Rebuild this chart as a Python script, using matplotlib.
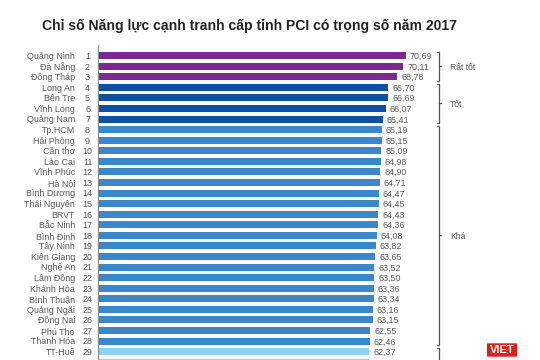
import matplotlib
matplotlib.use("Agg")
import matplotlib.pyplot as plt
from matplotlib.patches import FancyBboxPatch

plt.rcParams['font.family'] = ['Liberation Sans', 'DejaVu Sans']

provinces = ["Quảng Ninh", "Đà Nẵng", "Đồng Tháp", "Long An", "Bến Tre", "Vĩnh Long",
             "Quảng Nam", "Tp.HCM", "Hải Phòng", "Cần thơ", "Lào Cai", "Vĩnh Phúc",
             "Hà Nội", "Bình Dương", "Thái Nguyên", "BRVT", "Bắc Ninh", "Bình Định",
             "Tây Ninh", "Kiên Giang", "Nghệ An", "Lâm Đồng", "Khánh Hòa", "Bình Thuận",
             "Quảng Ngãi", "Đồng Nai", "Phú Thọ", "Thanh Hóa", "TT-Huế", "Bắc Giang"]
ranks = list(range(1, 31))
scores = [70.69, 70.11, 68.78, 66.70, 66.69, 66.07, 65.41, 65.19, 65.15, 65.09,
          64.98, 64.90, 64.71, 64.47, 64.45, 64.43, 64.36, 64.08, 63.82, 63.65,
          63.52, 63.50, 63.36, 63.34, 63.16, 63.15, 62.55, 62.46, 62.37, 62.30]
groups = ["Rất tốt"] * 3 + ["Tốt"] * 4 + ["Khá"] * 21 + ["Trung bình"] * 2
group_colors = {"Rất tốt": "#7a2a8c", "Tốt": "#12509f", "Khá": "#3c86cc", "Trung bình": "#8ed2f2"}
group_labels = ["Rất tốt", "Tốt", "Khá", ""]
group_order = ["Rất tốt", "Tốt", "Khá", "Trung bình"]

W, H = 540, 360
fig = plt.figure(figsize=(W / 100, H / 100), dpi=100)

ax_left = 97.5
ax_top = 45.0
px_per_unit = 4.36
row0 = 55.7
row_step = 10.57

ax = fig.add_axes([ax_left / W, 0, (W - ax_left) / W, (H - ax_top) / H])
xmax = (W - ax_left) / px_per_unit
ax.set_xlim(0, xmax)
ytop = 1 - (row0 - ax_top) / row_step
ybot = 1 + (H - row0) / row_step
ax.set_ylim(ybot, ytop)

colors = [group_colors[g] for g in groups]
ax.barh(ranks, scores, height=0.66, color=colors, zorder=2)

base_off = 0.31  # baseline offset (rows) below row centre
# texts only for rows fully inside the picture (the last row is cut by the frame)
for r, s, name in zip(ranks, scores, provinces):
    if r > 29:
        continue
    ax.text(s + 4 / px_per_unit, r + base_off, f"{s:.2f}".replace(".", ","), va="baseline",
            ha="left", fontsize=6.4, color="#555555")
    ax.text(-22.5 / px_per_unit, r + base_off, name, va="baseline", ha="right", fontsize=6.4,
            color="#555555", clip_on=False)
    ax.text(-10 / px_per_unit, r + base_off, str(r), va="baseline", ha="center", fontsize=6.4,
            color="#555555", clip_on=False)

for sp in ["top", "right", "bottom"]:
    ax.spines[sp].set_visible(False)
ax.spines["left"].set_color("#888888")
ax.spines["left"].set_linewidth(0.8)
ax.set_xticks([])
ax.set_yticks([])

# brackets
bx = (439 - ax_left) / px_per_unit
cap = 2 / px_per_unit
for g, lab in zip(group_order, group_labels):
    rs = [r for r, gg in zip(ranks, groups) if gg == g]
    y0, y1 = min(rs) - 0.35, max(rs) + 0.35
    if g == "Trung bình":
        y1 = max(rs) + 2
    ax.plot([bx - cap, bx, bx, bx - cap], [y0, y0, y1, y1], color="#555555", lw=0.9,
            clip_on=True, solid_joinstyle="miter")
    ym = (min(rs) + max(rs)) / 2
    if lab:
        ax.plot([bx, bx + cap], [ym, ym], color="#555555", lw=0.9)
        ax.text(bx + 11 / px_per_unit, ym + base_off, lab, va="baseline", ha="left",
                fontsize=6.2, color="#555555")

fig.text(249 / W, 1 - 26 / H, "Chỉ số Năng lực cạnh tranh cấp tỉnh PCI có trọng số năm 2017",
         ha="center", va="center", fontsize=10.1, fontweight="bold", color="#222222")

# logo
logo = FancyBboxPatch((488 / W, 1 - 356 / H), 28 / W, 12 / H,
                      boxstyle="round,pad=0.002", transform=fig.transFigure,
                      facecolor="#e02020", edgecolor="none")
fig.patches.append(logo)
fig.text(502 / W, 1 - 350 / H, "VIET", ha="center", va="center", fontsize=8,
         fontweight="bold", color="white")

fig.savefig("out.png", dpi=100)
